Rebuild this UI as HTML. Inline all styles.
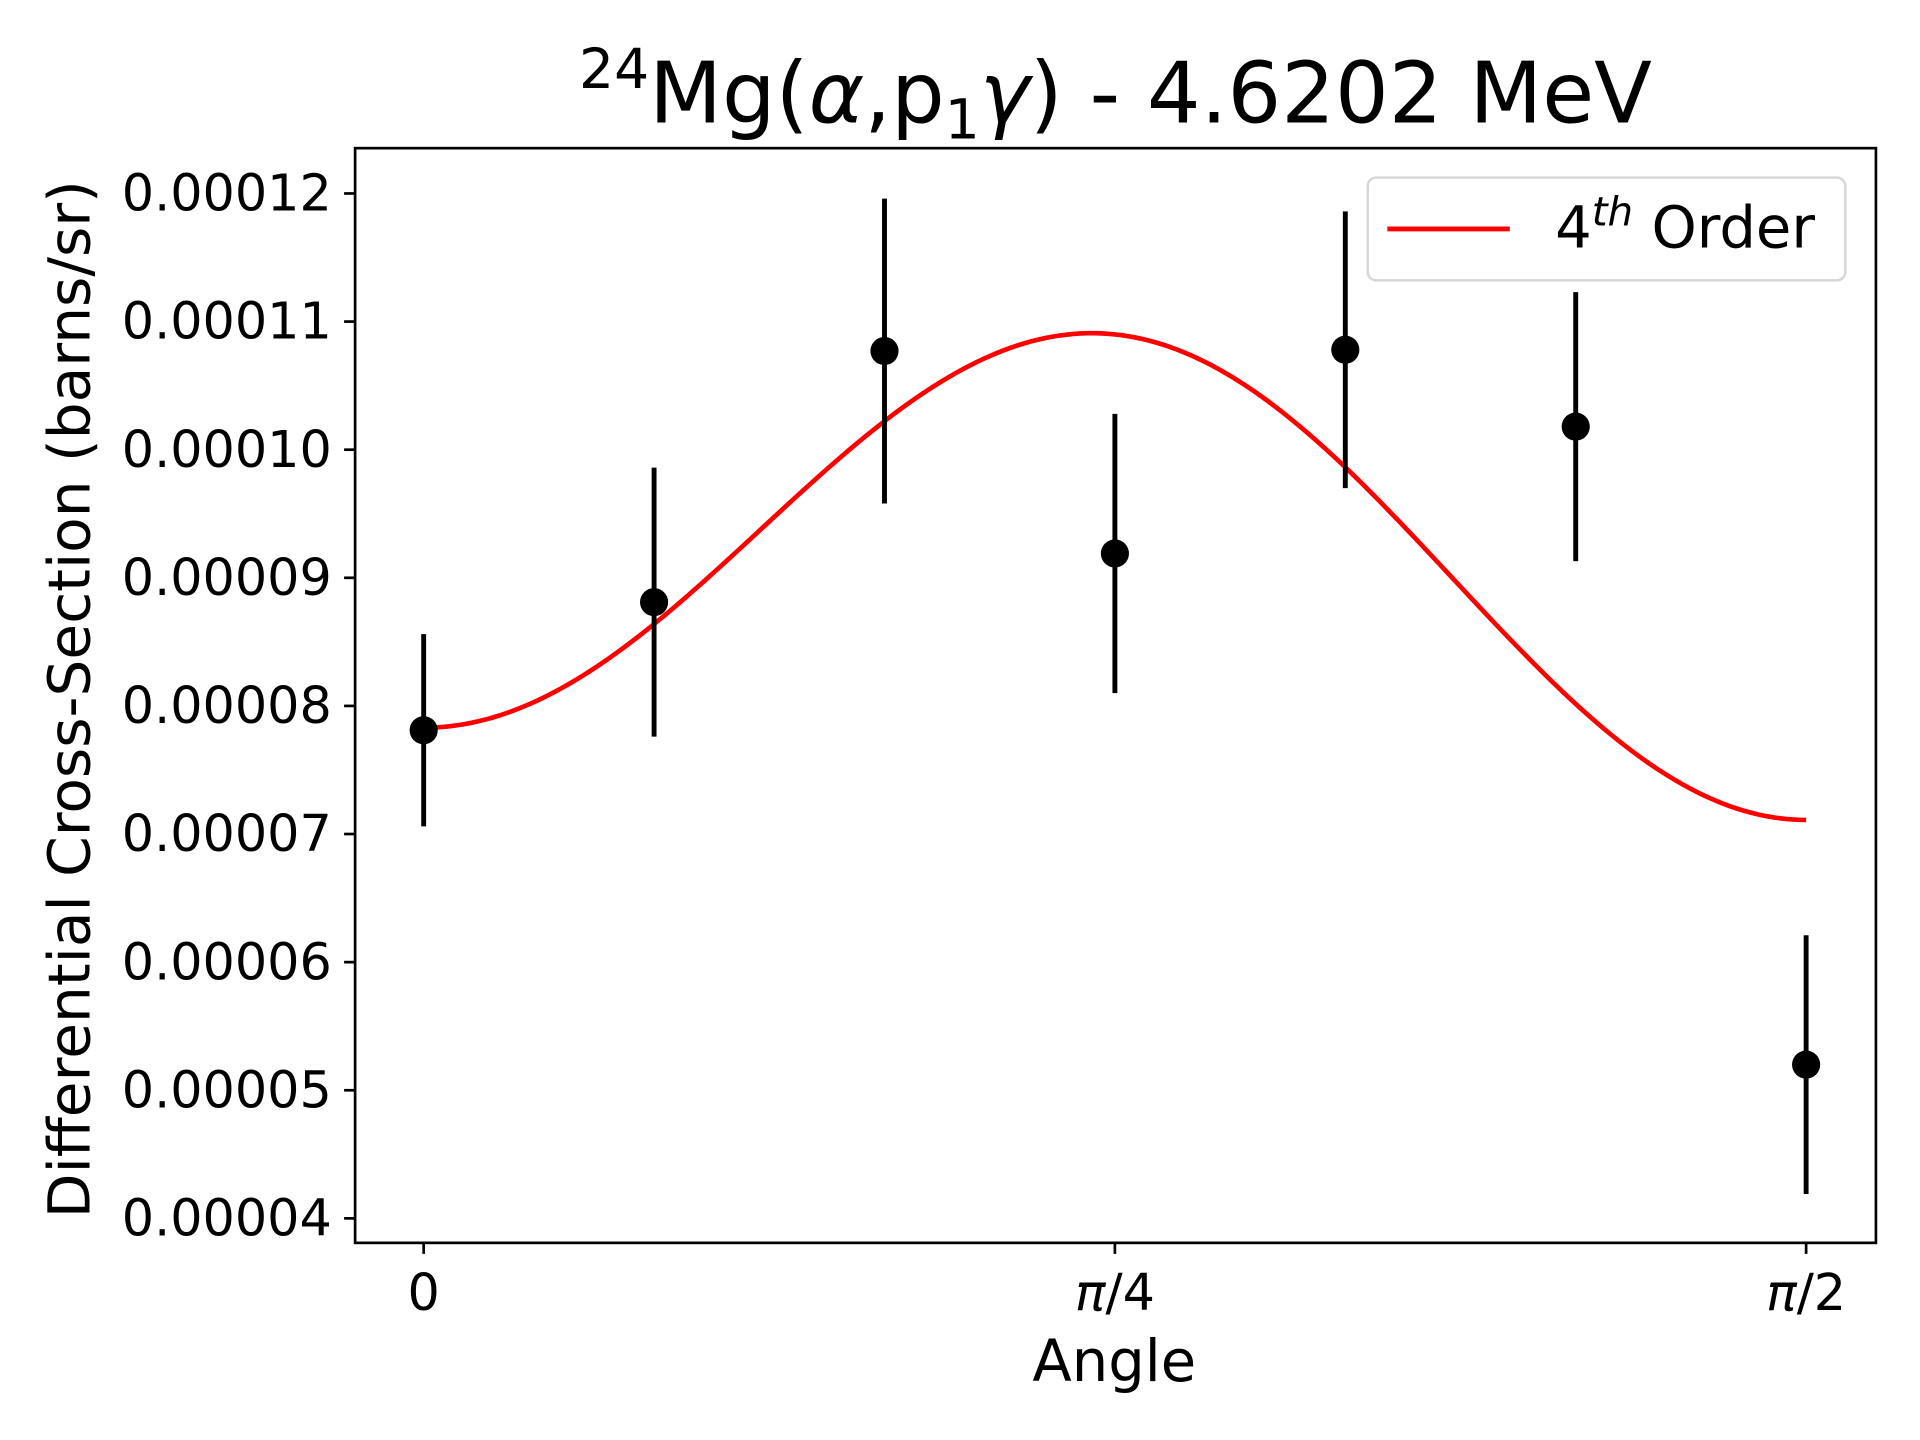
<!DOCTYPE html>
<html><head><meta charset="utf-8"><style>html,body{margin:0;padding:0;background:#fff}svg{display:block}text{font-family:"DejaVu Sans","Liberation Sans",sans-serif}</style></head>
<body>
<svg id="chart" width="1920" height="1440" viewBox="0 0 1568 1176" xmlns="http://www.w3.org/2000/svg">
<rect width="1568" height="1176" fill="#fff"/>
<text x="911" y="100" font-size="69" text-anchor="middle"><tspan font-size="45" dy="-28">24</tspan><tspan dy="28">Mg(</tspan><tspan font-style="italic">α</tspan><tspan>,p</tspan><tspan font-size="45" dy="13">1</tspan><tspan font-style="italic" dy="-13">γ</tspan><tspan>) - 4.6202 MeV</tspan></text>
<g id="plot"></g>
<rect x="290" y="121" width="1242" height="894" fill="none" stroke="#000" stroke-width="2.2"/>
<text x="910" y="1128" font-size="47" text-anchor="middle">Angle</text>
<text transform="translate(73,571) rotate(-90)" font-size="47.5" text-anchor="middle">Differential Cross-Section (barns/sr)</text>
<g>
<rect x="1117" y="145" width="390" height="84" rx="7" fill="#fff" stroke="#d6d6d6" stroke-width="2"/>
<line x1="1133" y1="187" x2="1233" y2="187" stroke="#ff0000" stroke-width="4"/>
<text x="1270" y="202" font-size="47">4<tspan font-size="33" font-style="italic" dy="-18">th</tspan><tspan dy="18"> Order</tspan></text>
</g>
</svg>
<script>
const angles = [0, 1/12, 2/12, 3/12, 4/12, 5/12, 6/12]; // in units of pi
const values = [7.81e-5, 8.81e-5, 10.77e-5, 9.19e-5, 10.78e-5, 10.18e-5, 5.20e-5];
const errors = [0.75e-5, 1.05e-5, 1.19e-5, 1.09e-5, 1.08e-5, 1.05e-5, 1.01e-5];
const fitCoefs = [7.11e-5, 14.44e-5, -13.72e-5]; // A + B cos^2 + C cos^4
const yTicks = [0.00004,0.00005,0.00006,0.00007,0.00008,0.00009,0.00010,0.00011,0.00012];
const yTickLabels = ["0.00004","0.00005","0.00006","0.00007","0.00008","0.00009","0.00010","0.00011","0.00012"];
const xTicks = [0, 0.25, 0.5];
const xTickLabels = ["0","π/4","π/2"];

const NS="http://www.w3.org/2000/svg";
const g=document.getElementById('plot');
function X(a){return 346+(a/0.5)*(1475-346);}
function Y(v){return 995-(v-0.00004)/0.00008*(995-158);}
function mk(tag,attrs,parent){const e=document.createElementNS(NS,tag);for(const k in attrs)e.setAttribute(k,attrs[k]);(parent||g).appendChild(e);return e;}

yTicks.forEach((v,i)=>{
  const t=mk('line',{x1:281,x2:290,y1:Y(v),y2:Y(v),stroke:'#000','stroke-width':2.2});
  
  
  const l=mk('text',{x:271,y:Y(v)+14,'font-size':41.5,'text-anchor':'end'});
  l.textContent=yTickLabels[i];
  
  
});
xTicks.forEach((a,i)=>{
  const t=mk('line',{x1:X(a),x2:X(a),y1:1015,y2:1024,stroke:'#000','stroke-width':2.2});
  
  
  const l=mk('text',{x:X(a),y:1070,'font-size':41.5,'text-anchor':'middle'});
  if(i>0){l.innerHTML='<tspan font-style="italic">π</tspan>'+xTickLabels[i].slice(1);}else l.textContent=xTickLabels[i];
  
  
});
let d='';
for(let i=0;i<=200;i++){const a=0.5*i/200;const c=Math.cos(a*Math.PI)**2;const v=fitCoefs[0]+fitCoefs[1]*c+fitCoefs[2]*c*c;d+=(i?'L':'M')+X(a).toFixed(2)+' '+Y(v).toFixed(2);}
const fit=mk('path',{d:d,fill:'none',stroke:'#ff0000','stroke-width':3.8});


angles.forEach((a,i)=>{
  const eb=mk('line',{x1:X(a),x2:X(a),y1:Y(values[i]-errors[i]),y2:Y(values[i]+errors[i]),stroke:'#000','stroke-width':4});
  
  
  const p=mk('circle',{cx:X(a),cy:Y(values[i]),r:11.5,fill:'#000'});
  
  
});
</script>
</body></html>
